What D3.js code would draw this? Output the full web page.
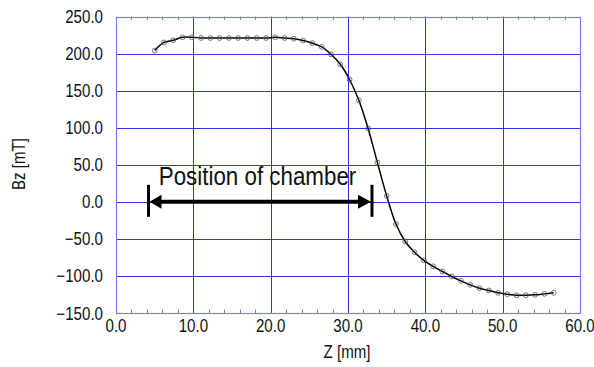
<!DOCTYPE html>
<html><head><meta charset="utf-8">
<script src="https://cdn.jsdelivr.net/npm/d3@7"></script>
<style>body{margin:0;background:#fff}svg{display:block}text{font-family:"Liberation Sans",Arial,Helvetica,sans-serif;fill:#111}</style>
</head><body><svg id="c" width="594" height="367"></svg>
<script>
const zValues = [5.0,6.2,7.4,8.6,9.8,11.0,12.2,13.4,14.6,15.8,17.0,18.2,19.4,20.6,21.8,23.0,24.2,25.4,26.6,27.8,29.0,30.2,31.4,32.6,33.8,35.0,36.2,37.4,38.6,39.8,41.0,42.2,43.4,44.6,45.8,47.0,48.2,49.4,50.6,51.8,53.0,54.2,55.4,56.6];
const bzValues = [204,215,218,222,222,221,221,221,221,221,221,221,221,222,221,220,217.6,214,209,199,185.5,165,137,99,53,8,-30,-53.5,-68,-79,-87,-94,-100.7,-106.6,-112,-116.5,-119.6,-122.8,-124.6,-126,-126,-125.5,-124.2,-122.8];
const xTicks = [0,10,20,30,40,50,60];
const yTicks = [-150,-100,-50,0,50,100,150,200,250];
const xMinor = [2,4,6,8,12,14,16,18,22,24,26,28,32,34,36,38,42,44,46,48,52,54,56,58];
const xTitle = "Z [mm]";
const yTitle = "Bz [mT]";
const annText = "Position of chamber";
const annFrom = 4.2, annTo = 33.1, annY = 0, annTextX = 18.3, annTextY = 22.5;

const svg = d3.select("#c");
const x = d3.scaleLinear().domain([0,60]).range([116,580]);
const y = d3.scaleLinear().domain([-150,250]).range([313,16.5]);
function label(txt, px, py, size, anchor, rot, sx) {
  const g = svg.append("g").attr("transform", `translate(${px},${py})` + (rot?` rotate(${rot})`:"") + ` scale(${sx||0.84},1)`);
  g.append("text").attr("text-anchor", anchor).attr("font-size", size).text(txt);
}
const gridC = "#3434e0";
// grid
svg.append("g").selectAll("line").data(xTicks.slice(1,-1)).join("line")
  .attr("x1", d=>Math.round(x(d))+0.5).attr("x2", d=>Math.round(x(d))+0.5)
  .attr("y1", y(250)).attr("y2", y(-150)).attr("stroke", gridC).attr("stroke-width",1);
svg.append("g").selectAll("line").data(yTicks.slice(1,-1)).join("line")
  .attr("y1", d=>Math.round(y(d))+0.5).attr("y2", d=>Math.round(y(d))+0.5)
  .attr("x1", x(0)).attr("x2", x(60)).attr("stroke", gridC).attr("stroke-width",1);
// minor ticks top & bottom
svg.append("g").selectAll("line").data(xMinor).join("line")
  .attr("x1", d=>Math.round(x(d))+0.5).attr("x2", d=>Math.round(x(d))+0.5)
  .attr("y1", y(-150)).attr("y2", y(-150)-3.5).attr("stroke", "#7878e8");
svg.append("g").selectAll("line").data(xMinor).join("line")
  .attr("x1", d=>Math.round(x(d))+0.5).attr("x2", d=>Math.round(x(d))+0.5)
  .attr("y1", y(250)).attr("y2", y(250)+3.5).attr("stroke", "#7878e8");
// frame
svg.append("rect").attr("x", x(0)+0.5).attr("y", Math.round(y(250))+0.5)
  .attr("width", x(60)-x(0)).attr("height", Math.round(y(-150))-Math.round(y(250)))
  .attr("fill","none").attr("stroke","#7d7dec").attr("stroke-width",1.2);
// tick labels
xTicks.forEach(d => label(d3.format(".1f")(d), x(d), 332, 18, "middle"));
yTicks.forEach(d => label(d3.format(".1f")(d), 103, y(d)+6.5, 18, "end"));
label(xTitle, 347, 358, 18, "middle");
label(yTitle, 25, 164, 18, "middle", -90);
// curve
svg.append("path").datum(zValues.map((z,i)=>[z,bzValues[i]]))
  .attr("d", d3.line().x(d=>x(d[0])).y(d=>y(d[1])).curve(d3.curveCatmullRom))
  .attr("fill","none").attr("stroke","#000").attr("stroke-width",1.5);
svg.append("g").selectAll("circle").data(zValues).join("circle")
  .attr("cx", d=>x(d)).attr("cy", (d,i)=>y(bzValues[i])).attr("r", 2.4)
  .attr("fill","none").attr("stroke","#555").attr("stroke-width",0.8);
// annotation arrow
const ay = y(annY), ax1 = x(annFrom), ax2 = x(annTo);
svg.append("line").attr("x1", ax1+10).attr("x2", ax2-10).attr("y1", ay).attr("y2", ay).attr("stroke","#000").attr("stroke-width",4);
svg.append("path").attr("d", `M${ax1+1},${ay} L${ax1+13},${ay-7} L${ax1+13},${ay+7} Z`).attr("fill","#000");
svg.append("path").attr("d", `M${ax2-1},${ay} L${ax2-14},${ay-7} L${ax2-14},${ay+7} Z`).attr("fill","#000");
[ax1, ax2].forEach(px => svg.append("line").attr("x1", px).attr("x2", px).attr("y1", ay-17).attr("y2", ay+15).attr("stroke","#000").attr("stroke-width",3));
label(annText, x(annTextX), y(annTextY), 26, "middle", 0, 0.86);
</script></body></html>
